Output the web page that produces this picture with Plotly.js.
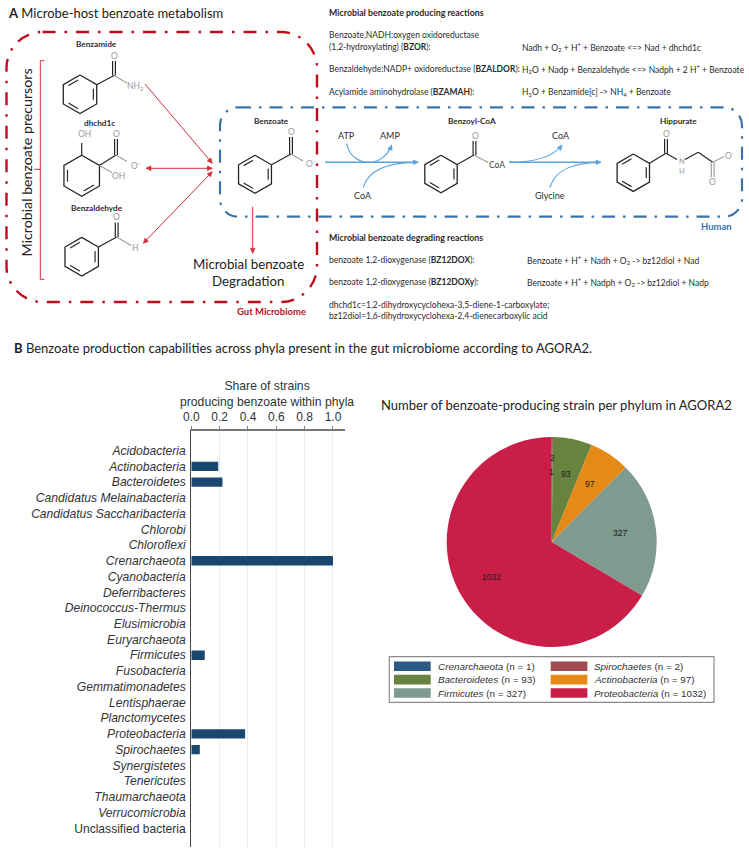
<!DOCTYPE html>
<html>
<head>
<meta charset="utf-8">
<script src="https://cdn.plot.ly/plotly-3.0.1.min.js"></script>
<style>html,body{margin:0;padding:0;background:#fff}#chart{width:749px;height:852px}</style>
</head>
<body>
<div id="chart"></div>
<script>
// ---- chart data ----
const phyla = ["Acidobacteria","Actinobacteria","Bacteroidetes","Candidatus Melainabacteria","Candidatus Saccharibacteria","Chlorobi","Chloroflexi","Crenarchaeota","Cyanobacteria","Deferribacteres","Deinococcus-Thermus","Elusimicrobia","Euryarchaeota","Firmicutes","Fusobacteria","Gemmatimonadetes","Lentisphaerae","Planctomycetes","Proteobacteria","Spirochaetes","Synergistetes","Tenericutes","Thaumarchaeota","Verrucomicrobia","Unclassified bacteria"];
const shareProducing = [0,0.19,0.22,0,0,0,0,1.0,0,0,0,0,0,0.095,0,0,0,0,0.38,0.06,0,0,0,0,0];
const shareTicks = [0,0.2,0.4,0.6,0.8,1.0];
const piePhyla = ["Crenarchaeota","Spirochaetes","Bacteroidetes","Actinobacteria","Firmicutes","Proteobacteria"];
const pieCounts = [1,2,93,97,327,1032];
const pieColors = ["#2c5a85","#a04a52","#68833f","#e68a17","#7f9a8e","#c81e48"];

// ---- pixel helpers ----
const W=749,H=852;
const X=x=>x/W, Y=y=>1-y/H;
const shapes=[], annotations=[];
const DARK="#262626", GREY="#a0a0a0", RED="#d0303a", DRED="#c00d1e", BLUE="#5ba3dc", DBLUE="#3b74a8";
const SANS="Lato", ARIAL="Liberation Sans";

function T(x,y,text,o){o=o||{};annotations.push({xref:"paper",yref:"paper",x:X(x),y:Y(y),text:text,showarrow:false,
  xanchor:o.anchor||"left",yanchor:"middle",align:o.anchor==="center"?"center":"left",textangle:o.angle||0,borderpad:0,
  font:{family:o.family||SANS,size:o.size||9.5,color:o.color||"#2b2b2b"}});}
function P(pts){return pts.map((p,i)=>(i?"L":"M")+X(p[0])+" "+Y(p[1])).join(" ");}
function path(d,color,width,extra){shapes.push(Object.assign({type:"path",xref:"paper",yref:"paper",path:d,line:{color:color,width:width}},extra||{}));}
function line(x1,y1,x2,y2,color,width){path(P([[x1,y1],[x2,y2]]),color||DARK,width||1.2);}
function dbl(x1,y1,x2,y2,color){const dx=x2-x1,dy=y2-y1,l=Math.hypot(dx,dy),nx=-dy/l*1.4,ny=dx/l*1.4;
  line(x1+nx,y1+ny,x2+nx,y2+ny,color);line(x1-nx,y1-ny,x2-nx,y2-ny,color);}
function head(x,y,ang,size,color){const a=ang,s=size,w=size*0.5;
  const p=[[x,y],[x-s*Math.cos(a)-w*Math.sin(a),y-s*Math.sin(a)+w*Math.cos(a)],[x-s*Math.cos(a)+w*Math.sin(a),y-s*Math.sin(a)-w*Math.cos(a)]];
  path(P(p)+" Z",color,0.5,{fillcolor:color});}
function arrow(x1,y1,x2,y2,color,w,both,size){line(x1,y1,x2,y2,color,w);const a=Math.atan2(y2-y1,x2-x1);head(x2,y2,a,size||5,color);if(both)head(x1,y1,a+Math.PI,size||5,color);}
function curve(p0,c1,c2,p1,color,w,withHead){
  path("M"+X(p0[0])+" "+Y(p0[1])+" C"+X(c1[0])+" "+Y(c1[1])+" "+X(c2[0])+" "+Y(c2[1])+" "+X(p1[0])+" "+Y(p1[1]),color,w);
  if(withHead)head(p1[0],p1[1],Math.atan2(p1[1]-c2[1],p1[0]-c2[0]),5,color);}
function rrect(x0,y0,x1,y1,r,color,w,dash){const k=r*0.45;
  const c=(a,b,d,e,f,g)=>"C"+X(a)+" "+Y(b)+" "+X(d)+" "+Y(e)+" "+X(f)+" "+Y(g);
  const d="M"+X(x0+r)+" "+Y(y0)+" L"+X(x1-r)+" "+Y(y0)+" "+c(x1-k,y0,x1,y0+k,x1,y0+r)+" L"+X(x1)+" "+Y(y1-r)+" "+c(x1,y1-k,x1-k,y1,x1-r,y1)+" L"+X(x0+r)+" "+Y(y1)+" "+c(x0+k,y1,x0,y1-k,x0,y1-r)+" L"+X(x0)+" "+Y(y0+r)+" "+c(x0,y0+k,x0+k,y0,x0+r,y0)+" Z";
  shapes.push({type:"path",xref:"paper",yref:"paper",path:d,line:{color:color,width:w,dash:dash}});}
function ring(cx,cy,r,doubles){const v=[];for(let i=0;i<6;i++){const a=-Math.PI/2+i*Math.PI/3;v.push([cx+r*Math.cos(a),cy+r*Math.sin(a)]);}
  path(P(v.concat([v[0]])),DARK,1.3);
  doubles.forEach(i=>{const a=v[i],b=v[(i+1)%6],f=0.80,g=0.14;
    const q=p=>[cx+(p[0]-cx)*f,cy+(p[1]-cy)*f];const A=q(a),B=q(b);
    line(A[0]+(B[0]-A[0])*g,A[1]+(B[1]-A[1])*g,B[0]-(B[0]-A[0])*g,B[1]-(B[1]-A[1])*g,DARK,1.2);});}
const atom=(x,y,t)=>T(x,y,t,{anchor:"center",size:8.5,color:"#9a9a9a"});

// ---- panel titles ----
T(7,13,"<b>A</b> Microbe-host benzoate metabolism",{size:13,color:"#222"});
T(13,348,"<b>B</b> Benzoate production capabilities across phyla present in the gut microbiome according to AGORA2.",{size:13,color:"#222"});

// ---- dashed compartments ----
rrect(220,107.3,742,216.7,18,DBLUE,2.2,"13px,8px,2.5px,8px");
rrect(6.5,32,317,302,36,DRED,2.4,"13px,9px,2.5px,9px");
T(271.7,311.7,"<b>Gut Microbiome</b>",{anchor:"center",size:9.5,color:DRED});
T(716.7,226.7,"<b>Human</b>",{anchor:"center",size:9.5,color:DBLUE});

// ---- precursors bracket ----
path(P([[44.3,60.7],[40.3,60.7],[40.3,279.3],[44.3,279.3]]),RED,1);
line(34.3,169.3,40.3,169.3,RED,1);
T(26.7,162.7,"Microbial benzoate precursors",{anchor:"center",angle:-90,size:14.2,color:"#222"});

// ---- molecules ----
T(96.7,44.3,"<b>Benzamide</b>",{anchor:"center",size:8.2});
ring(80,94.3,19.3,[1,3,5]);
line(96.7,84.7,114,75.5);dbl(114,75.5,114,61,DARK);line(114,75.5,127,83,GREY);
atom(114,56,"O");atom(135,86.5,"NH<sub>2</sub>");

T(99.3,122.7,"<b>dhchd1c</b>",{anchor:"center",size:8.2});
ring(81.7,175.7,20.5,[2,4]);
line(81.7,155.2,81.7,143,DARK);line(99.4,165.5,116,155);dbl(116,155,116,139,DARK);line(116,155,127,161.5,GREY);line(99.4,165.5,112,172.5,GREY);
atom(84,133.5,"OH");atom(116,134,"O");atom(135,164.7,"O<sup>-</sup>");atom(119,175.7,"OH");

T(97.3,207.7,"<b>Benzaldehyde</b>",{anchor:"center",size:8.2});
ring(81.7,256.7,19.3,[1,3,5]);
line(98.4,247,116.7,237);dbl(116.7,237,116.7,222.5,DARK);line(116.7,237,131,245.5,GREY);
atom(116.7,217.5,"O");atom(135,248,"H");

T(271.7,120.7,"<b>Benzoate</b>",{anchor:"center",size:8.2});
ring(255,174.3,19,[1,3,5]);
line(271.5,164.8,291,154);dbl(291,154,291,137,DARK);line(291,154,303,161,GREY);
atom(291,132,"O");atom(310,163.3,"O<sup>-</sup>");

T(471.7,120.7,"<b>Benzoyl-CoA</b>",{anchor:"center",size:8.2});
ring(441,174,18.7,[1,3,5]);
line(457.2,164.6,474,155);dbl(474.5,155,474.5,141,DARK);line(474,155,488,162.5,GREY);
atom(475,136,"O");T(496.7,165,"CoA",{anchor:"center",size:8.5,color:"#444"});

T(678.3,120.7,"<b>Hippurate</b>",{anchor:"center",size:8.2});
ring(633.3,172.7,18.7,[1,3,5]);
line(649.5,163.3,666,153.3);dbl(666,153.3,666,139,DARK);line(666,153.3,677,159.5,DARK);
line(685,159.5,698.3,152.3,DARK);line(698.3,152.3,712.7,162.3,DARK);dbl(712.7,162.3,712.7,177,GREY);line(712.7,162.3,724,156.5,GREY);
atom(666,134,"O");T(681.5,166,"N<br>H",{anchor:"center",size:7.5,color:"#9a9a9a"});atom(712.7,182,"O");atom(729.3,155,"O<sup>-</sup>");

// ---- red arrows ----
arrow(145,84,212.3,163.3,RED,1,false);
arrow(146,168.3,212.3,168.3,RED,1,true);
arrow(143.3,243.3,212.3,171.7,RED,1,true);
arrow(252.7,206.7,252.7,253.3,RED,1,false);
T(248.3,264,"Microbial benzoate",{anchor:"center",size:13.3,color:"#222"});
T(248.3,281,"Degradation",{anchor:"center",size:13.3,color:"#222"});

// ---- blue pathway ----
arrow(325,162.3,418.3,162.3,BLUE,1.4,false);
arrow(509,162.3,601,162.3,BLUE,1.4,false);
curve([346.7,143.5],[349,157],[360,162.3],[369,162.3],BLUE,1.2,false);
curve([369,162.3],[380,162.3],[388,155],[391.7,145],BLUE,1.2,true);
curve([363.3,187.3],[368,171],[384,162.5],[416,162.3],BLUE,1.2,false);
curve([509,162.3],[535,162.3],[553,157],[562,145],BLUE,1.2,true);
curve([550,187.3],[555,171],[570,162.5],[600,162.3],BLUE,1.2,false);
T(346.7,135.7,"ATP",{anchor:"center",size:9});
T(390,135.7,"AMP",{anchor:"center",size:9});
T(363.3,195.7,"CoA",{anchor:"center",size:9});
T(561,135.7,"CoA",{anchor:"center",size:9});
T(550,195.7,"Glycine",{anchor:"center",size:9});

// ---- reaction text ----
const RX=328,FS=8.5,FH=8.8;
T(RX,12.7,"<b>Microbial benzoate producing reactions</b>",{size:FH});
T(RX,35,"Benzoate,NADH:oxygen oxidoreductase",{size:FS});
T(RX,47,"(1,2-hydroxylating) (<b>BZOR</b>):",{size:FS});
T(521,47,"Nadh + O<sub>2</sub> + H<sup>+</sup> + Benzoate &lt;=&gt; Nad + dhchd1c",{size:FS});
T(RX,69,"Benzaldehyde:NADP+ oxidoreductase (<b>BZALDOR</b>):",{size:FS});
T(521,69,"H<sub>2</sub>O + Nadp + Benzaldehyde &lt;=&gt; Nadph + 2 H<sup>+</sup> + Benzoate",{size:FS});
T(RX,92,"Acylamide aminohydrolase (<b>BZAMAH</b>):",{size:FS});
T(521,92,"H<sub>2</sub>O + Benzamide[c] -&gt; NH<sub>4</sub> + Benzoate",{size:FS});
T(RX,237.3,"<b>Microbial benzoate degrading reactions</b>",{size:FH});
T(RX,259.7,"benzoate 1,2-dioxygenase (<b>BZ12DOX</b>):",{size:FS});
T(525.7,259.7,"Benzoate + H<sup>+</sup> + Nadh + O<sub>2</sub> -&gt; bz12diol + Nad",{size:FS});
T(RX,282.3,"benzoate 1,2-dioxygenase (<b>BZ12DOXy</b>):",{size:FS});
T(525.7,282.3,"Benzoate + H<sup>+</sup> + Nadph + O<sub>2</sub> -&gt; bz12diol + Nadp",{size:FS});
T(RX,305,"dhchd1c=1,2-dihydroxycyclohexa-3,5-diene-1-carboxylate;",{size:FS});
T(RX,315.7,"bz12diol=1,6-dihydroxycyclohexa-2,4-dienecarboxylic acid",{size:FS});

// ---- bar chart axis title ----
T(267,394,"Share of strains<br>producing benzoate within phyla",{anchor:"center",size:12.2,family:ARIAL,color:"#333"});

// ---- pie labels (from the counts) and legend ----
const PCX=551.7,PCY=542,PR=105;
T(556.7,405,"Number of benzoate-producing strain per phylum in AGORA2",{anchor:"center",size:13,color:"#222"});
const labelRadius=[0.665,0.8,0.665,0.665,0.665,0.665];
const total=pieCounts.reduce((a,b)=>a+b,0);
let cum=0;
pieCounts.forEach((n,i)=>{const mid=(cum+n/2)/total*2*Math.PI;cum+=n;
  T(PCX+PR*labelRadius[i]*Math.sin(mid),PCY-PR*labelRadius[i]*Math.cos(mid),String(n),{anchor:"center",size:8.6,family:ARIAL,color:"#1a1a1a"});});
shapes.push({type:"rect",xref:"paper",yref:"paper",x0:X(389.3),x1:X(714),y0:Y(656.7),y1:Y(702.3),line:{color:"#8a8a8a",width:1.2},fillcolor:"rgba(0,0,0,0)"});
piePhyla.forEach((name,i)=>{const col=i%2,row=(i-col)/2,sx=col?550.7:394,ty=666.3+row*13.35;
  shapes.push({type:"rect",xref:"paper",yref:"paper",x0:X(sx),x1:X(sx+36.7),y0:Y(ty-4.8),y1:Y(ty+4.8),line:{width:0},fillcolor:pieColors[i]});
  T(sx+42.7,ty,"<i>"+name+"</i> (n = "+pieCounts[i]+")",{size:9.9,family:ARIAL,color:"#333"});});

// ---- traces ----
const tickText=phyla.map(p=>p.startsWith("Unclassified")?p:"<i>"+p+"</i>");
const bar={type:"bar",orientation:"h",x:shareProducing,y:phyla,width:0.6,marker:{color:"#1a476f",line:{width:0}},xaxis:"x",yaxis:"y",hoverinfo:"x+y",showlegend:false};
const pie={type:"pie",labels:piePhyla,values:pieCounts,sort:false,direction:"clockwise",rotation:0,textinfo:"none",
  marker:{colors:pieColors,line:{width:0}},domain:{x:[X(PCX-PR),X(PCX+PR)],y:[Y(PCY+PR),Y(PCY-PR)]},showlegend:false};

const layout={width:W,height:H,margin:{l:0,r:0,t:0,b:0,pad:0},paper_bgcolor:"#fff",plot_bgcolor:"#fff",showlegend:false,
  xaxis:{domain:[X(191.3),X(345.3)],range:[0,1.087],side:"top",anchor:"y",tickvals:shareTicks,ticktext:shareTicks.map(v=>v.toFixed(1)),
    ticks:"outside",ticklen:3,tickcolor:"#888",tickwidth:1,showline:true,linecolor:"#777",linewidth:1.5,showgrid:true,gridcolor:"#e3edf3",gridwidth:1,zeroline:false,
    tickfont:{family:ARIAL,size:12,color:"#333"},automargin:false},
  yaxis:{domain:[Y(846.7),Y(431)],type:"category",categoryorder:"array",categoryarray:phyla,range:[25.17,-1.25],anchor:"x",tickmode:"array",tickvals:phyla,ticktext:tickText,
    ticks:"outside",ticklen:2,tickcolor:"rgba(0,0,0,0)",showline:true,linecolor:"#444",linewidth:1.2,showgrid:false,zeroline:false,
    tickfont:{family:ARIAL,size:12.1,color:"#333"},automargin:false},
  shapes:shapes,annotations:annotations};
Plotly.newPlot("chart",[bar,pie],layout,{displayModeBar:false,responsive:false});
</script>
</body>
</html>
